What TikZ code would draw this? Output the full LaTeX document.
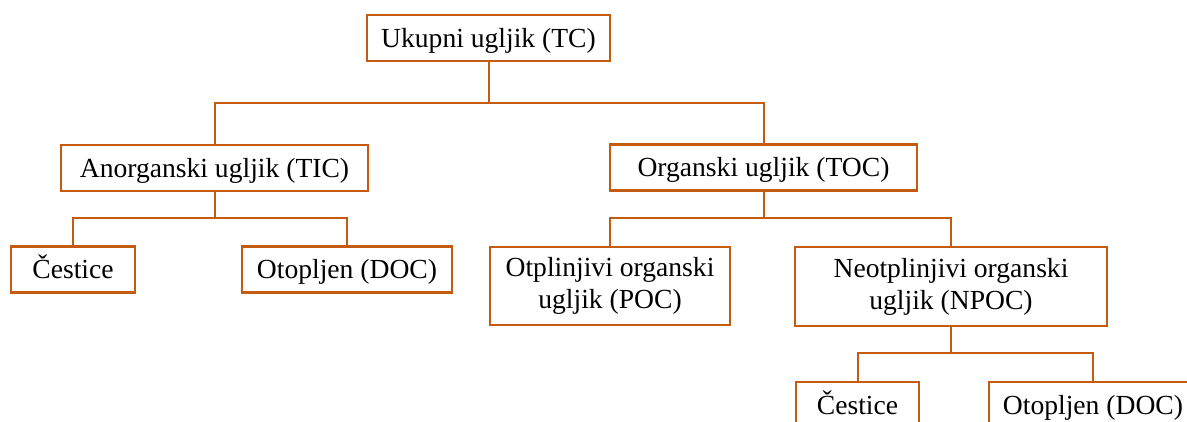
\documentclass[tikz,border=0pt]{standalone}
\usepackage{fontspec}
\setmainfont{Liberation Serif}
\definecolor{boxc}{HTML}{C55A11}
\begin{document}
\begin{tikzpicture}[x=1pt,y=-1pt,
  box/.style={draw=boxc,line width=2.2pt,fill=white,inner sep=0pt,align=center,
    font=\fontsize{27.6}{32}\selectfont,text=black,minimum height=46pt},
  one/.style={box,text height=18.5pt,text depth=0pt},
  link/.style={draw=boxc,line width=2pt}]
\useasboundingbox (0,0) rectangle (1187,421);
\clip (0,0) rectangle (1187,421);
\node[one,minimum width=243pt] (tc) at (488.5,38) {Ukupni ugljik (TC)};
\node[one,minimum width=307pt] (tic) at (214.5,168) {Anorganski ugljik (TIC)};
\node[one,minimum width=307pt] (toc) at (763.5,167.5) {Organski ugljik (TOC)};
\node[one,minimum width=124pt] (c1) at (73,269.5) {Čestice};
\node[one,minimum width=210pt] (o1) at (347,269.5) {Otopljen (DOC)};
\node[box,minimum width=240pt,minimum height=78pt] (poc) at (610,286) {Otplinjivi organski\\ugljik (POC)};
\node[box,minimum width=312pt,minimum height=79pt] (npoc) at (951,286.5) {Neotplinjivi organski\\ugljik (NPOC)};
\node[one,minimum width=123pt,anchor=north] (c2) at (857.5,381) {Čestice};
\node[one,minimum width=208pt,anchor=north] (o2) at (1093,381) {Otopljen (DOC)};
\coordinate (b1) at (488.5,103);
\coordinate (b2) at (214.5,218);
\coordinate (b3) at (763.5,218);
\coordinate (b4) at (951,353);
\draw[link] (tc.south) -- (b1) -| (tic.north);
\draw[link] (b1) -| (toc.north);
\draw[link] (tic.south) -- (b2) -| (c1.north);
\draw[link] (b2) -| (o1.north);
\draw[link] (toc.south) -- (b3) -| (poc.north);
\draw[link] (b3) -| (npoc.north);
\draw[link] (npoc.south) -- (b4) -| (c2.north);
\draw[link] (b4) -| (o2.north);
\end{tikzpicture}
\end{document}
